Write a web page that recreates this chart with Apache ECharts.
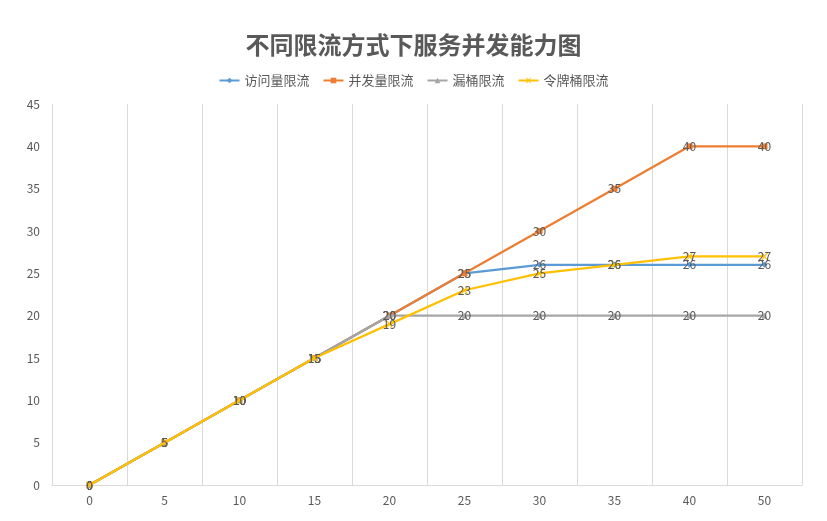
<!DOCTYPE html>
<html>
<head>
<meta charset="utf-8">
<script src="https://cdn.jsdelivr.net/npm/echarts@6/dist/echarts.min.js"></script>
<style>html,body{margin:0;padding:0;background:#fff}#c{width:827px;height:521px}</style>
</head>
<body>
<div id="c"></div>
<script>
const categories = ['0','5','10','15','20','25','30','35','40','50'];
const seriesNames = ['访问量限流','并发量限流','漏桶限流','令牌桶限流'];
const visitLimit = [0,5,10,15,20,25,26,26,26,26];
const concurrencyLimit = [0,5,10,15,20,25,30,35,40,40];
const leakyBucket = [0,5,10,15,20,20,20,20,20,20];
const tokenBucket = [0,5,10,15,19,23,25,26,27,27];
const yTicks = {min:0, max:45, interval:5};

const colors = ['#5B9BD5','#ED7D31','#A5A5A5','#FFC000'];
const xPath = 'path://M0,0L2,0L5,3L8,0L10,0L6,4L10,8L8,8L5,5L2,8L0,8L4,4Z';
const symbols = ['diamond','rect','triangle',xPath];
const dataSets = [visitLimit, concurrencyLimit, leakyBucket, tokenBucket];
const font = '"Noto Sans CJK SC", "Noto Sans", sans-serif';

const chart = echarts.init(document.getElementById('c'));
chart.setOption({
  backgroundColor:'#fff',
  animation:false,
  color:colors,
  title:{
    text:'不同限流方式下服务并发能力图',
    left:'center', top:28,
    textStyle:{fontFamily:font, fontSize:24, fontWeight:'bold', color:'#595959'}
  },
  legend:{
    top:69, left:'center', itemWidth:20, itemHeight:7, itemGap:13,
    textStyle:{fontFamily:font, fontSize:13, color:'#595959'},
    data:seriesNames
  },
  grid:{left:52, right:25, top:104, bottom:36},
  xAxis:{
    type:'category', data:categories, boundaryGap:true,
    axisLine:{lineStyle:{color:'#d9d9d9'}},
    axisTick:{show:false},
    axisLabel:{color:'#595959', fontSize:12, fontFamily:font, margin:9},
    splitLine:{show:true, interval:0, lineStyle:{color:'#d9d9d9'}}
  },
  yAxis:{
    type:'value', min:yTicks.min, max:yTicks.max, interval:yTicks.interval,
    axisLine:{show:false}, axisTick:{show:false},
    splitLine:{show:false},
    axisLabel:{color:'#595959', fontSize:12, fontFamily:font, margin:12}
  },
  series:dataSets.map((d,i)=>({
    name:seriesNames[i], type:'line', data:d,
    symbol:symbols[i], symbolSize: i===3 ? 7 : 6, showAllSymbol:true,
    lineStyle:{width:2.25, color:colors[i]},
    itemStyle:{color:colors[i]},
    label:{show:true, position:'inside', color:'#595959', fontSize:12, fontFamily:font},
    z: 2+i
  }))
});
</script>
</body>
</html>
